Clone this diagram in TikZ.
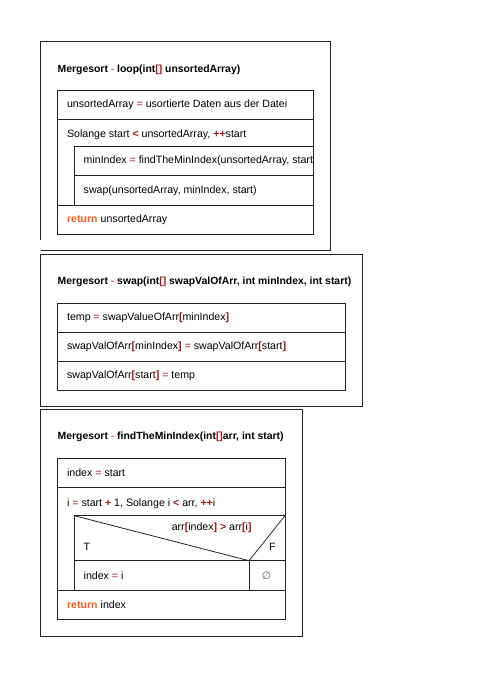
\documentclass[tikz,border=0pt]{standalone}
\usepackage{fontspec}
\setmainfont{Liberation Sans}
\newfontfamily\symfont{DejaVu Sans}
\usepackage{xcolor}
\usepackage{tikz}

\definecolor{opred}{HTML}{A31515}
\definecolor{kworange}{HTML}{FF5A1E}
\definecolor{dashred}{HTML}{E8603C}
\definecolor{frame}{HTML}{222222}
\newcommand{\op}[1]{\textcolor{opred}{#1}}
\newcommand{\kw}[1]{\textcolor{kworange}{\textbf{#1}}}

\tikzset{
  txt/.style={anchor=west, inner sep=0pt, font=\fontsize{10.6}{12}\selectfont},
  ttl/.style={anchor=west, inner sep=0pt, font=\fontsize{10.4}{12}\selectfont\bfseries},
}

\begin{document}
\begin{tikzpicture}[x=1pt, y=-1pt, line width=0.8pt, draw=frame]
\useasboundingbox (0,0) rectangle (487,675);
% Mergesort - loop
\draw (40.7,240) -- (40.7,41.7) -- (330.7,41.7) -- (330.7,250.7) -- (40.7,250.7);
\node[ttl] (loopTitle) at (57.3,69.5) {Mergesort \textcolor{dashred}{-} loop(int\op{[]} unsortedArray)};
\draw (57.7,90) rectangle (313.3,234);
\draw (57.7,119) -- (313.3,119);
\draw (313.3,146.7) -- (74.3,146.7) -- (74.3,205);
\draw (74.3,175.7) -- (313.3,175.7);
\draw (57.7,205) -- (313.3,205);
\node[txt] (loopInit) at (66.7,104.5) {unsortedArray \op{=} usortierte Daten aus der Datei};
\node[txt] (loopHead) at (66.7,135) {Solange start \op{\textbf{<}} unsortedArray, \op{\textbf{++}}start};
\begin{scope}
\clip (74.3,146.7) rectangle (313.3,175.7);
\node[txt] (loopMin) at (83.3,161.2) {minIndex \op{=} findTheMinIndex(unsortedArray, start)};
\end{scope}
\node[txt] (loopSwap) at (83.3,190.3) {swap(unsortedArray, minIndex, start)};
\node[txt] (loopRet) at (66.7,219.5) {\kw{return} unsortedArray};

% Mergesort - swap
\draw (40.7,254) rectangle (362.7,406.7);
\node[ttl] (swapTitle) at (57.3,282) {Mergesort \textcolor{dashred}{-} swap(int\op{[]} swapValOfArr, int minIndex, int start)};
\draw (57.7,303.3) rectangle (345,390);
\draw (57.7,332.3) -- (345,332.3);
\draw (57.7,361.7) -- (345,361.7);
\node[txt] (swapTemp) at (66.7,317.8) {temp \op{=} swapValueOfArr\op{\textbf{[}}minIndex\op{\textbf{]}}};
\node[txt] (swapSet) at (66.7,347) {swapValOfArr\op{\textbf{[}}minIndex\op{\textbf{]}} \op{=} swapValOfArr\op{\textbf{[}}start\op{\textbf{]}}};
\node[txt] (swapBack) at (66.7,375.8) {swapValOfArr\op{\textbf{[}}start\op{\textbf{]}} \op{=} temp};

% Mergesort - findTheMinIndex
\draw (40.7,409) rectangle (302.7,636);
\node[ttl] (findTitle) at (57.3,436.7) {Mergesort \textcolor{dashred}{-} findTheMinIndex(int\op{[]}arr, int start)};
\draw (57.7,458.3) rectangle (285,619);
\draw (57.7,487.7) -- (285,487.7);
\draw (285,515.7) -- (74.3,515.7) -- (74.3,590);
\draw (74.3,515.7) -- (249,560.7) -- (285,515.7);
\draw (74.3,560.7) -- (285,560.7);
\draw (249,560.7) -- (249,590);
\draw (57.7,590) -- (285,590);
\node[txt] (findInit) at (66.7,473) {index \op{=} start};
\node[txt] (findHead) at (66.7,503.3) {i \op{=} start \op{\textbf{+}} 1, Solange i \op{\textbf{<}} arr, \op{\textbf{++}}i};
\node[txt, anchor=east] (findCond) at (252,527.7) {arr\op{\textbf{[}}index\op{\textbf{]}} \op{\textbf{>}} arr\op{\textbf{[}}i\op{\textbf{]}}};
\node[txt] (findT) at (83.3,546.7) {T};
\node[txt, anchor=east] (findF) at (276,546.7) {F};
\node[txt] (findSet) at (83.3,575.3) {index \op{=} i};
\node[txt, anchor=center, text=black!60] (findNone) at (266.5,575.3) {\symfont\itshape ∅};
\node[txt] (findRet) at (66.7,604.5) {\kw{return} index};
\end{tikzpicture}
\end{document}
